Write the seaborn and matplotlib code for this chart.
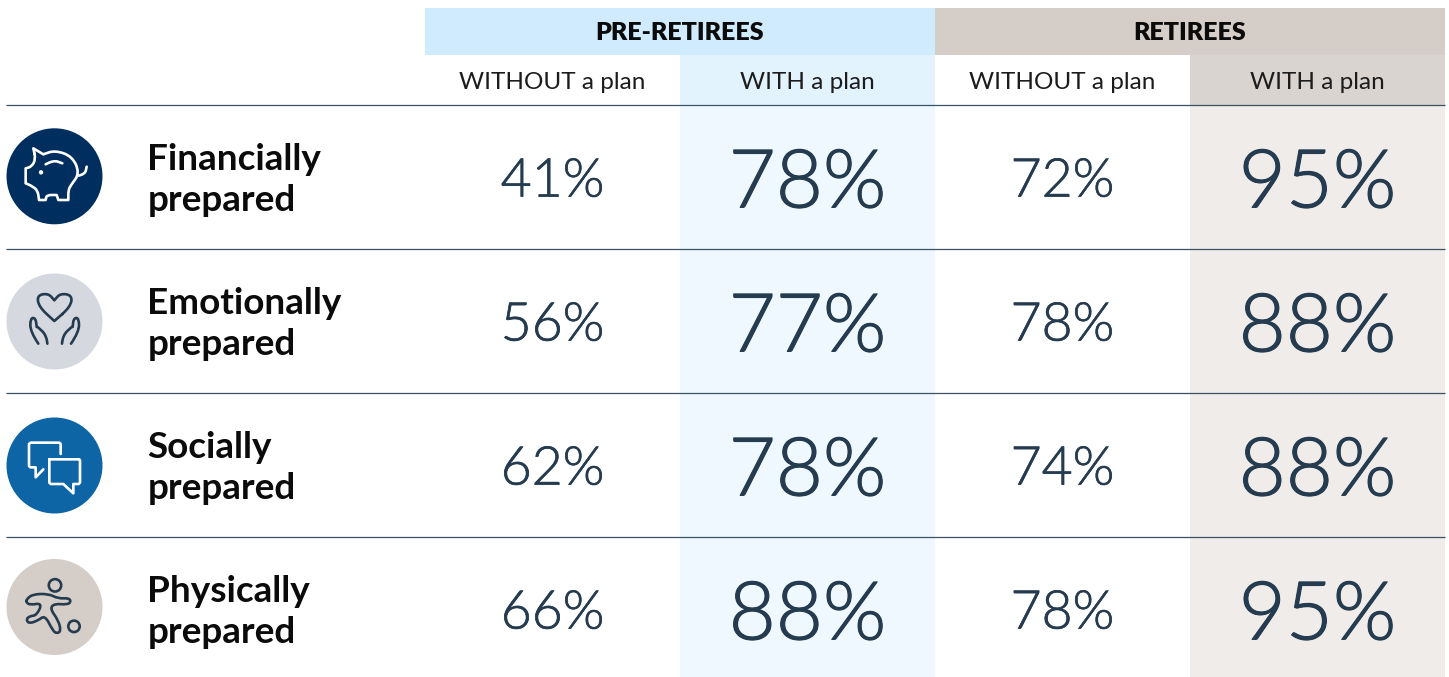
import numpy as np
import pandas as pd
import seaborn as sns
import matplotlib
matplotlib.use("Agg")
import matplotlib.pyplot as plt
import matplotlib.colors as mcolors
import matplotlib.patheffects as pe
from matplotlib import font_manager as fm
from matplotlib.patches import Circle, PathPatch, Rectangle
from matplotlib.path import Path

# chart data
rows = ["Financially\nprepared", "Emotionally\nprepared", "Socially\nprepared", "Physically\nprepared"]
groups = ["PRE-RETIREES", "RETIREES"]
plans = ["WITHOUT a plan", "WITH a plan", "WITHOUT a plan", "WITH a plan"]
pre_without = [41, 56, 62, 66]
pre_with = [78, 77, 78, 88]
ret_without = [72, 78, 74, 78]
ret_with = [95, 88, 88, 95]

W, H = 1449, 677
TEXT = "#253b4f"
INK = "#0b0b0b"
RULE = "#3a5166"

sns.set_theme(style="white")
plt.rcParams["font.family"] = ["Lato", "DejaVu Sans"]

values = pd.DataFrame({"a": pre_without, "b": pre_with, "c": ret_without, "d": ret_with}, index=rows)
labels = values.map(lambda v: f"{v}%")
shade = pd.DataFrame(np.tile([0, 1, 2, 3], (len(rows), 1)), index=rows, columns=values.columns)

# weight="light" resolves to the hairline cut, so look the light file up directly
light_file = next((f.fname for f in fm.fontManager.ttflist if "Lato-Light." in f.fname), None)

fig = plt.figure(figsize=(W / 100, H / 100), dpi=100)

# table body, column shading comes from the heatmap
ax = fig.add_axes([425 / W, 0, 1020 / W, 572 / H])
cmap = mcolors.ListedColormap(["#ffffff", "#eff8fe", "#ffffff", "#f0ecea"])
sns.heatmap(shade, ax=ax, cmap=cmap, vmin=-0.5, vmax=3.5, cbar=False, annot=labels, fmt="",
            xticklabels=False, yticklabels=False, annot_kws={"color": TEXT})
ax.set_ylim(572 / 144, 0)
ax.set_xlabel("")
ax.set_ylabel("")
for i, t in enumerate(ax.texts):
    big = i % 4 in (1, 3)
    size = 58.5 if big else 38.5
    if light_file:
        t.set_fontproperties(fm.FontProperties(fname=light_file, size=size))
        t.set_path_effects([pe.withStroke(linewidth=0.8 if big else 0.5, foreground=TEXT)])
    else:
        t.set_fontsize(size)
    t.set_color(TEXT)
    t.set_y(t.get_position()[1] + (0.055 if big else 0.035))

# overlay in pixel coordinates for header, rules and icons
ov = fig.add_axes([0, 0, 1, 1], facecolor="none")
ov.set_xlim(0, W)
ov.set_ylim(H, 0)
ov.axis("off")

ov.add_patch(Rectangle((425, 8), 510, 47, fc="#cfebfd", ec="none"))
ov.add_patch(Rectangle((935, 8), 510, 47, fc="#d5cdc7", ec="none"))
ov.add_patch(Rectangle((680, 55), 255, 50, fc="#e3f3fd", ec="none"))
ov.add_patch(Rectangle((1190, 55), 255, 50, fc="#d9d4cf", ec="none"))
for x, g in zip([680, 1190], groups):
    ov.text(x, 32.5, g, ha="center", va="center", fontsize=18, fontweight="heavy", color=INK)
for x, p in zip([552, 807, 1062, 1317], plans):
    ov.text(x, 82.5, p, ha="center", va="center", fontsize=17.5, color="#1c1c1c")

for y in [105, 249, 393, 537]:
    ov.plot([6, 1445], [y, y], color=RULE, lw=0.9, solid_capstyle="butt")

for i, r in enumerate(rows):
    top, bottom = r.split("\n")
    ov.text(147.5, 159.5 + 144 * i, top, va="center", fontsize=26.6, fontweight="bold", color=INK)
    ov.text(147.5, 200.5 + 144 * i, bottom, va="center", fontsize=26.6, fontweight="bold", color=INK)


def outline(points, ox, oy, color, closed=True, lw=1.7):
    pts = np.array(points, dtype=float) / 3 + [ox, oy]
    if closed:
        start = (pts[0] + pts[-1]) / 2
        verts, codes = [start], [Path.MOVETO]
        for k in range(len(pts)):
            nxt = pts[(k + 1) % len(pts)]
            verts += [pts[k], (pts[k] + nxt) / 2]
            codes += [Path.CURVE3, Path.CURVE3]
    else:
        verts, codes = [pts[0]], [Path.MOVETO]
        for k in range(1, len(pts) - 1):
            verts += [pts[k], (pts[k] + pts[k + 1]) / 2]
            codes += [Path.CURVE3, Path.CURVE3]
        verts.append(pts[-1])
        codes.append(Path.LINETO)
    ov.add_patch(PathPatch(Path(verts, codes), fc="none", ec=color, lw=lw, capstyle="round", joinstyle="round"))


ov.add_patch(Circle((54.5, 176.3), 48, fc="#002f5f", ec="none"))
ov.add_patch(Circle((54.5, 321.5), 48, fc="#d5d9df", ec="none"))
ov.add_patch(Circle((54.5, 465.5), 48, fc="#0e65a5", ec="none"))
ov.add_patch(Circle((54.5, 607), 48, fc="#d5cdc7", ec="none"))

# piggy bank
W_ICON = "#ffffff"
outline([(55, 40), (55, 40), (85, 58), (85, 58), (120, 46), (172, 64), (194, 115), (168, 150), (160, 165), (160, 195),
         (160, 195), (130, 195), (130, 195), (125, 180), (125, 180), (95, 180), (92, 195), (92, 195), (72, 195), (72, 195),
         (68, 165), (45, 150), (32, 145), (32, 145), (32, 100), (32, 100), (50, 95), (62, 72)],
        15, 135, W_ICON, lw=1.9)
outline([(190, 122), (210, 118), (215, 95)], 15, 135, W_ICON, closed=False, lw=1.9)
outline([(92, 88), (115, 75), (142, 85)], 15, 135, W_ICON, closed=False, lw=1.9)
ov.add_patch(Circle((15 + 78 / 3, 135 + 112 / 3), 2.2, fc=W_ICON, ec="none"))

# heart and hands
outline([(118, 117), (118, 117), (72, 75), (66, 40), (100, 34), (118, 55), (118, 55), (136, 34), (172, 40), (166, 75)],
        15, 282, TEXT, lw=1.9)
for sx in (1, -1):
    hand = [(70, 185), (46, 150), (46, 108), (62, 108), (65, 135)]
    finger = [(97, 185), (95, 160), (68, 135)]
    outline([(119 + sx * (x - 119), y) for x, y in hand], 15, 282, TEXT, closed=False, lw=1.9)
    outline([(119 + sx * (x - 119), y) for x, y in finger], 15, 282, TEXT, closed=False, lw=1.9)


# chat bubbles
def bubble(points):
    pts = np.array(points, dtype=float) / 3 + [0, 390]
    ov.add_patch(PathPatch(Path(pts), fc="none", ec=W_ICON, lw=1.9, joinstyle="round", capstyle="round"))


bubble([(148, 208), (238, 208), (240, 212), (240, 278), (236, 282), (220, 282), (220, 310), (190, 282),
        (152, 282), (148, 278), (148, 208)])
bubble([(182, 192), (182, 162), (178, 158), (92, 158), (87, 162), (87, 228), (91, 232), (107, 232), (107, 262),
        (130, 238)])

# runner
ov.add_patch(Circle((15 + 120 / 3, 567 + 55 / 3), 6.2, fc="none", ec=TEXT, lw=1.9))
ov.add_patch(Circle((15 + 177 / 3, 567 + 178 / 3), 5.7, fc="none", ec=TEXT, lw=1.9))
outline([(34, 98), (52, 82), (100, 80), (130, 95), (162, 93), (168, 105), (156, 113), (118, 110), (105, 125), (130, 160),
         (138, 192), (125, 200), (113, 190), (90, 145), (70, 160), (42, 170), (33, 157), (45, 147), (65, 145), (82, 108),
         (45, 114), (34, 106)],
        15, 567, TEXT, lw=1.9)

fig.savefig("out.png", dpi=100, facecolor="white")
